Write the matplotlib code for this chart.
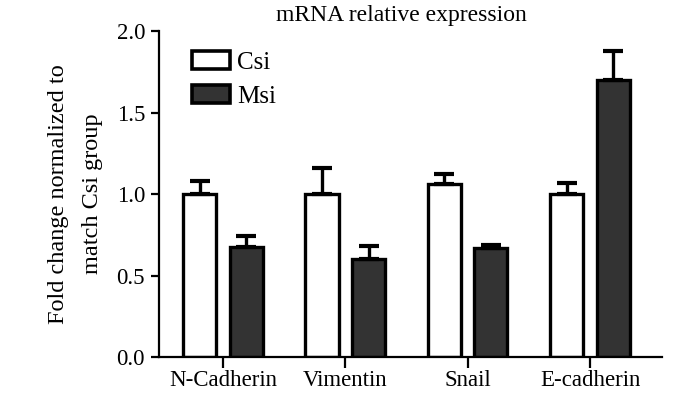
import numpy as np
import matplotlib
matplotlib.use("Agg")
import matplotlib.pyplot as plt

genes = ["N-Cadherin", "Vimentin", "Snail", "E-cadherin"]
csi_mean = [1.00, 1.00, 1.06, 1.00]
csi_err = [0.08, 0.16, 0.06, 0.07]
msi_mean = [0.675, 0.60, 0.67, 1.70]
msi_err = [0.065, 0.08, 0.02, 0.18]

plt.rcParams['font.family'] = ['Liberation Serif', 'DejaVu Serif']

fig = plt.figure(figsize=(7.0, 3.98), dpi=100)
ax = fig.add_axes([0.227, 0.103, 0.719, 0.819])

x = np.arange(len(genes))
w = 0.27
off = 0.19

ax.bar(x - off, csi_mean, w, color='white', edgecolor='black', linewidth=2.4,
       yerr=[np.zeros(4), csi_err], error_kw=dict(ecolor='black', elinewidth=2.4,
       capsize=7, capthick=3), label='Csi', zorder=2)
ax.bar(x + off, msi_mean, w, color='#333333', edgecolor='black', linewidth=2.4,
       yerr=[np.zeros(4), msi_err], error_kw=dict(ecolor='black', elinewidth=2.4,
       capsize=7, capthick=3), label='Msi', zorder=2)

ax.set_xlim(-0.523, 3.59)
ax.set_ylim(0, 2.0)
ax.set_yticks([0, 0.5, 1.0, 1.5, 2.0])
ax.set_yticklabels(['0.0', '0.5', '1.0', '1.5', '2.0'])
ax.set_xticks(x)
ax.set_xticklabels(genes)

for s in ['top', 'right']:
    ax.spines[s].set_visible(False)
for s in ['left', 'bottom']:
    ax.spines[s].set_linewidth(1.6)
ax.tick_params(axis='both', labelsize=16.5, width=1.6, length=6, direction='out')
ax.tick_params(axis='y', pad=4)
ax.tick_params(axis='x', length=8, pad=1)

ax.set_ylabel('Fold change normalized to\nmatch Csi group', fontsize=17.5,
              linespacing=1.8, labelpad=10)
fig.text(401 / 700, 1 - 16 / 398, 'mRNA relative expression', fontsize=17,
         ha='center', va='center')

leg = ax.legend(loc='upper left', bbox_to_anchor=(192 / 700, 1 - 51 / 398),
                bbox_transform=fig.transFigure, frameon=False, borderpad=0,
                borderaxespad=0, fontsize=18, handlelength=1.5, handleheight=0.75,
                handletextpad=0.3, labelspacing=0.45)
for h in leg.legend_handles:
    h.set_linewidth(2.6)

fig.savefig('out.png', dpi=100)
